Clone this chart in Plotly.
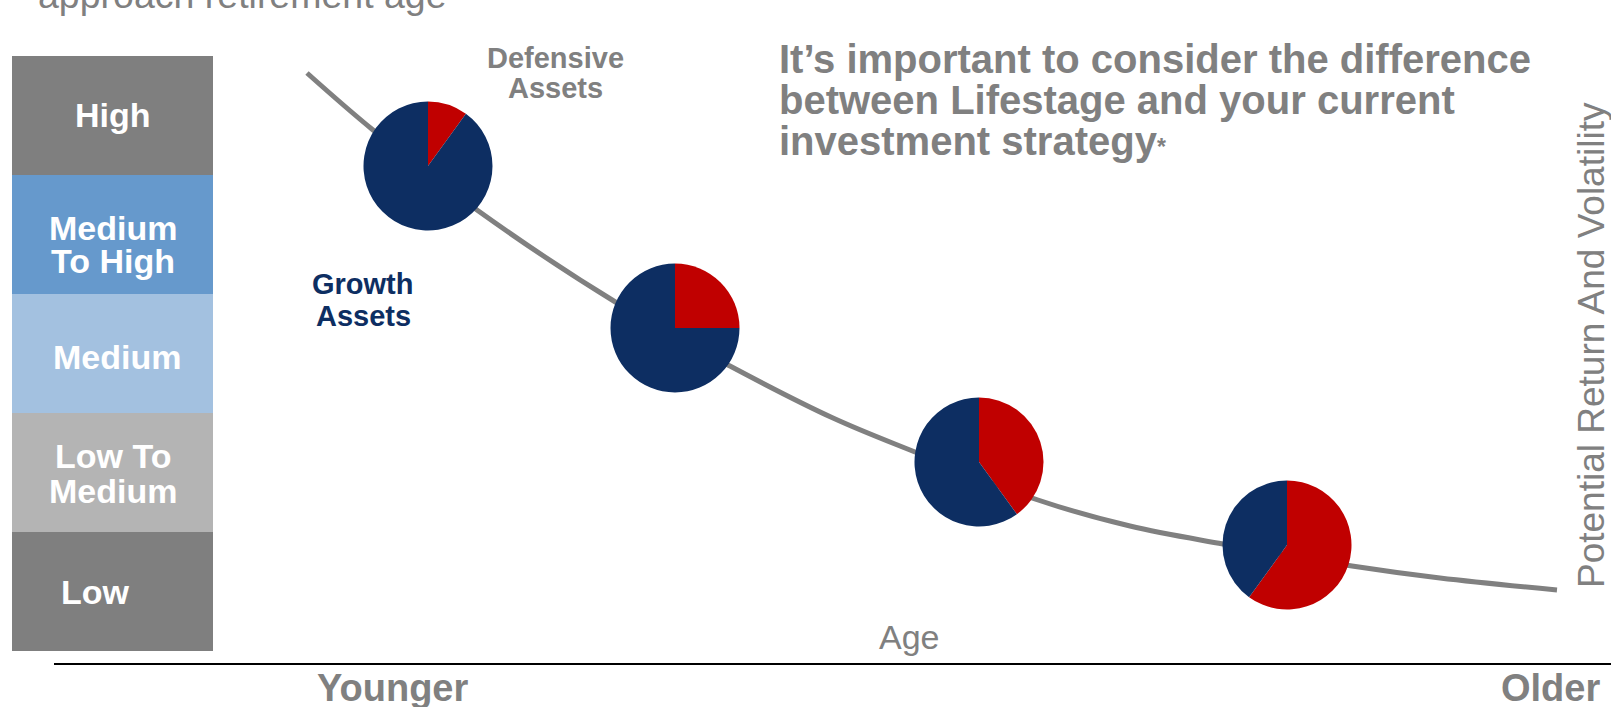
import plotly.graph_objects as go

W, H = 1611, 707

# ---------------- data ----------------
# glide path: age (left = younger) vs potential return / volatility (pixel-like units)
curve_age = [307, 373, 477, 617, 730, 833, 915, 1038, 1130, 1223, 1352, 1440, 1557]
curve_risk = [73, 130, 210, 303, 366, 418, 452, 500, 526, 544, 566, 578, 590]

# asset mix at each life stage (%)
defensive_pct = [10, 25, 40, 60]
growth_pct = [90, 75, 60, 40]
slice_names = ["Defensive Assets", "Growth Assets"]

# risk scale bands (bottom to top)
risk_levels = ["Low", "Low To Medium", "Medium", "Medium To High", "High"]
risk_level_lines = [["Low"], ["Low To", "Medium"], ["Medium"], ["Medium", "To High"], ["High"]]
axis_labels = ["Younger", "Older"]

# ---------------- styling / layout ----------------
GRAY = "#808080"
NAVY = "#0d2e62"
RED = "#c00000"
band_colors = ["#7f7f7f", "#b4b4b4", "#a3c1e0", "#6699cc", "#7f7f7f"]
pie_cx = [428, 675, 979, 1287]
pie_cy = [166, 328, 462, 545]
pie_r = 64.5

def px(x):
    return x / W

def py(y):
    return 1 - y / H

fig = go.Figure()

# glide path curve
fig.add_trace(go.Scatter(
    x=curve_age, y=curve_risk, mode="lines",
    line=dict(color=GRAY, width=5, shape="spline", smoothing=1.0),
    hoverinfo="skip", xaxis="x", yaxis="y", cliponaxis=False,
))

# risk band column (stacked bar)
fig.add_trace(go.Bar(
    x=[0] * len(risk_levels), y=[1] * len(risk_levels),
    base=list(range(len(risk_levels))), width=1,
    marker=dict(color=band_colors, line=dict(width=0)),
    hoverinfo="skip", xaxis="x2", yaxis="y2",
))

# pies
for i in range(len(defensive_pct)):
    cx, cy = pie_cx[i], pie_cy[i]
    fig.add_trace(go.Pie(
        labels=slice_names, values=[defensive_pct[i], growth_pct[i]],
        marker=dict(colors=[RED, NAVY], line=dict(width=0)),
        sort=False, direction="clockwise", rotation=0,
        textinfo="none", hoverinfo="skip", showlegend=False,
        domain=dict(x=[px(cx - pie_r), px(cx + pie_r)], y=[py(cy + pie_r), py(cy - pie_r)]),
    ))

annotations = []

def ann(text, x, y, size, color, bold=False, xanchor="center", angle=0,
        family="Arial, Liberation Sans, sans-serif"):
    annotations.append(dict(
        text=text, x=px(x), y=py(y), xref="paper", yref="paper",
        xanchor=xanchor, yanchor="middle", showarrow=False, textangle=angle,
        font=dict(size=size, color=color, family=family, weight="bold" if bold else "normal"),
    ))

# band labels
band_xshift = [-17, 0, 4.5, 0, 0.5]
band_line_offsets = [[0], [-17, 18], [3], [-6, 26], [0]]
for i, lines in enumerate(risk_level_lines):
    for ln, off in zip(lines, band_line_offsets[i]):
        annotations.append(dict(
            text=ln, x=0, y=i + 0.5, xref="x2", yref="y2",
            xanchor="center", yanchor="middle", showarrow=False,
            xshift=band_xshift[i], yshift=-off,
            font=dict(size=34, color="white", family="Arial, Liberation Sans, sans-serif", weight="bold"),
        ))

# cut-off subtitle at top
ann("approach retirement age", 36, -5, 37.5, GRAY, xanchor="left")

# headline
ann("It\u2019s important to consider the difference", 777, 59, 40, GRAY, bold=True, xanchor="left")
ann("between Lifestage and your current", 777, 100, 40, GRAY, bold=True, xanchor="left")
ann("investment strategy<span style='font-size:23px'>*</span>", 777, 141, 40, GRAY, bold=True, xanchor="left")

# slice labels
ann("Defensive", 555, 58, 29, GRAY, bold=True)
ann("Assets", 555, 88, 29, GRAY, bold=True)
ann("Growth", 363, 284, 29, NAVY, bold=True)
ann("Assets", 363, 316, 29, NAVY, bold=True)

# axis titles
ann("Age", 910, 637, 34, GRAY)
ann("Potential Return And Volatility", 1591, 345, 37, GRAY, angle=-90)
ann(axis_labels[0], 393, 688, 38, GRAY, bold=True)
ann(axis_labels[1], 1550, 688, 38, GRAY, bold=True)

fig.update_layout(
    width=W, height=H, autosize=False,
    margin=dict(l=0, r=0, t=0, b=0, pad=0),
    paper_bgcolor="white", plot_bgcolor="rgba(0,0,0,0)",
    showlegend=False,
    xaxis=dict(domain=[0, 1], range=[0, W], visible=False, fixedrange=True),
    yaxis=dict(domain=[0, 1], range=[H, 0], visible=False, fixedrange=True),
    xaxis2=dict(domain=[px(12), px(213)], range=[-0.5, 0.5], visible=False, anchor="y2", fixedrange=True),
    yaxis2=dict(domain=[py(651), py(56)], range=[0, len(risk_levels)], visible=False, anchor="x2", fixedrange=True),
    annotations=annotations,
    shapes=[dict(type="line", xref="paper", yref="paper",
                 x0=px(54), x1=1, y0=py(664), y1=py(664),
                 line=dict(color="black", width=2))],
)

fig.write_html("out.html")
